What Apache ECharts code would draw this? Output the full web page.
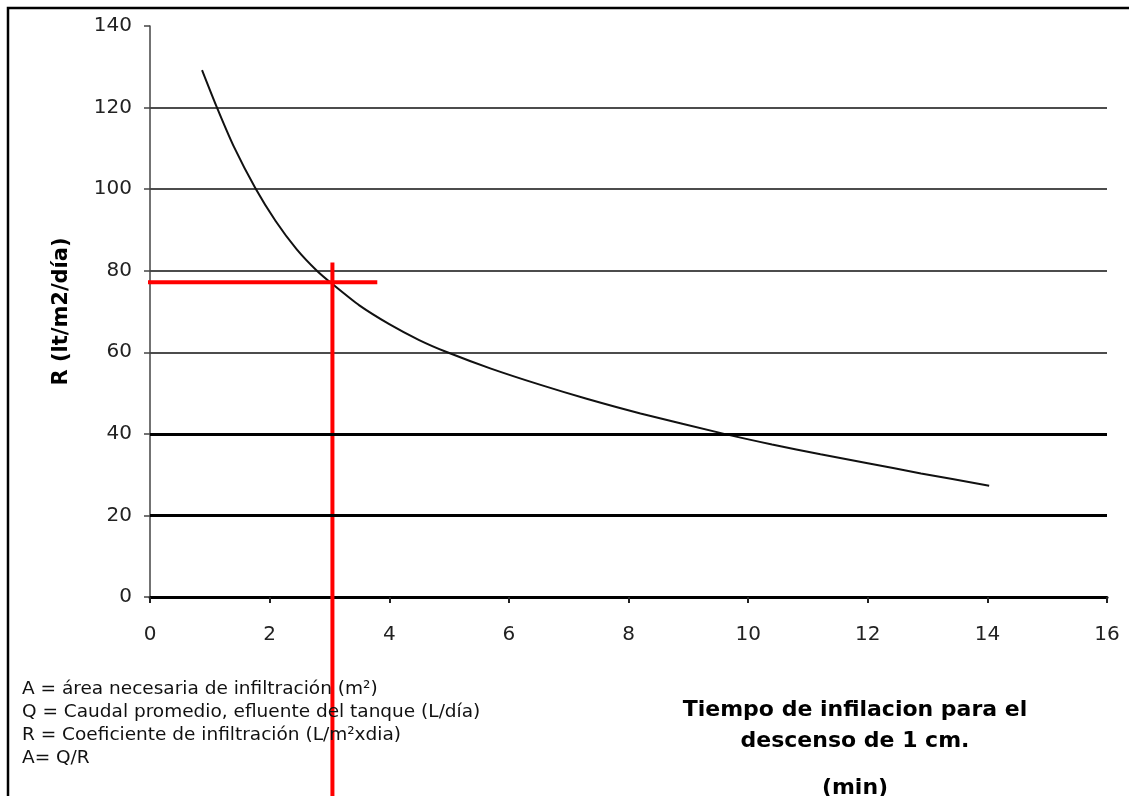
<!DOCTYPE html>
<html>
<head>
<meta charset="utf-8">
<title>Coeficiente de infiltración</title>
<script src="https://cdn.jsdelivr.net/npm/echarts@6/dist/echarts.min.js"></script>
<style>
html, body { margin: 0; padding: 0; background: #fff; }
#chart { width: 1129px; height: 796px; }
</style>
</head>
<body>
<div id="chart"></div>
<script>
// curva: tiempo (min) y R (lt/m2/dia)
var tiempo = [0.87, 1.12, 1.4, 1.76, 2.1, 2.45, 2.79, 3.06, 3.5, 4.0, 4.5, 4.97, 5.7, 6.53, 7.3, 8.2, 9.6, 10.4, 11.21, 12.0, 12.89, 14.03];
var coefR = [129.2, 120, 110.5, 100.3, 92.2, 85.3, 80, 76.6, 71.5, 66.9, 63.0, 60, 56.0, 52, 48.6, 45, 40, 37.4, 35, 32.8, 30.3, 27.3];

// cruz roja de lectura (t = 3.05 min, R = 77)
var rojaH = [[-0.37, 77.2], [3.8, 77.2]];
var rojaV = [[3.05, 82], [3.05, -48.8]];

// lineas gruesas de la grilla
var lineasGruesas = [20, 40];

var notas = [
    'A = área necesaria de infiltración (m²)',
    'Q = Caudal promedio, efluente del tanque (L/día)',
    'R = Coeficiente de infiltración (L/m²xdia)',
    'A= Q/R'
];
var tituloX = ['Tiempo de infilacion para el', 'descenso de 1 cm.', '(min)'];
var tituloXTop = [694, 725, 772];

window.onload = function () {
    var chart = echarts.init(document.getElementById('chart'));

    var curva = [];
    for (var i = 0; i < tiempo.length; i++) {
        curva.push([tiempo[i], coefR[i]]);
    }

    var titulos = [{
        text: notas.join('\n'),
        left: 17,
        top: 673,
        textStyle: {
            fontFamily: 'DejaVu Sans',
            fontSize: 18.5,
            fontWeight: 'normal',
            color: '#111',
            lineHeight: 23
        }
    }];
    for (var j = 0; j < tituloX.length; j++) {
        titulos.push({
            text: tituloX[j],
            left: 850,
            top: tituloXTop[j],
            textAlign: 'center',
            textStyle: {
                fontFamily: 'DejaVu Sans',
                fontSize: 22,
                fontWeight: 'bold',
                color: '#000'
            }
        });
    }

    var option = {
        backgroundColor: '#fff',
        animation: false,
        title: titulos,
        graphic: [{
            type: 'polyline',
            silent: true,
            shape: { points: [[8, 800], [8, 8], [1140, 8]] },
            style: { stroke: '#000', lineWidth: 2.5, fill: null }
        }],
        grid: {
            left: 150,
            right: 22,
            top: 26,
            bottom: 199
        },
        xAxis: {
            type: 'value',
            min: 0,
            max: 16,
            interval: 2,
            axisLine: { show: true, onZero: false, lineStyle: { color: '#000', width: 3 } },
            axisTick: { show: true, length: 6, lineStyle: { color: '#222', width: 2 } },
            axisLabel: {
                margin: 28,
                fontFamily: 'DejaVu Sans',
                fontSize: 20,
                color: '#222'
            },
            splitLine: { show: false }
        },
        yAxis: {
            type: 'value',
            min: 0,
            max: 140,
            interval: 20,
            name: 'R (lt/m2/día)',
            nameLocation: 'middle',
            nameGap: 78,
            nameRotate: 90,
            nameTextStyle: {
                fontFamily: 'DejaVu Sans',
                fontSize: 21,
                fontWeight: 'bold',
                color: '#000'
            },
            axisLine: { show: true, lineStyle: { color: '#444', width: 1.5 } },
            axisTick: { show: true, length: 6, lineStyle: { color: '#444', width: 1.5 } },
            axisLabel: {
                margin: 18,
                fontFamily: 'DejaVu Sans',
                fontSize: 20,
                color: '#222'
            },
            splitLine: {
                show: true,
                lineStyle: {
                    color: ['transparent', '#111', '#111', '#111', '#111', '#111', '#111', 'transparent'],
                    width: 1.5
                }
            }
        },
        series: [
            {
                name: 'R',
                type: 'line',
                data: curva,
                smooth: 0.25,
                showSymbol: false,
                silent: true,
                lineStyle: { color: '#111', width: 2 },
                markLine: {
                    silent: true,
                    symbol: 'none',
                    label: { show: false },
                    lineStyle: { color: '#000', width: 3, type: 'solid' },
                    data: lineasGruesas.map(function (v) { return { yAxis: v }; })
                },
                z: 3
            },
            {
                name: 'lectura horizontal',
                type: 'line',
                data: rojaH,
                clip: false,
                showSymbol: false,
                silent: true,
                lineStyle: { color: '#ff0000', width: 4 },
                z: 4
            },
            {
                name: 'lectura vertical',
                type: 'line',
                data: rojaV,
                clip: false,
                showSymbol: false,
                silent: true,
                lineStyle: { color: '#ff0000', width: 4 },
                z: 4
            }
        ]
    };
    chart.setOption(option);
};
</script>
</body>
</html>
